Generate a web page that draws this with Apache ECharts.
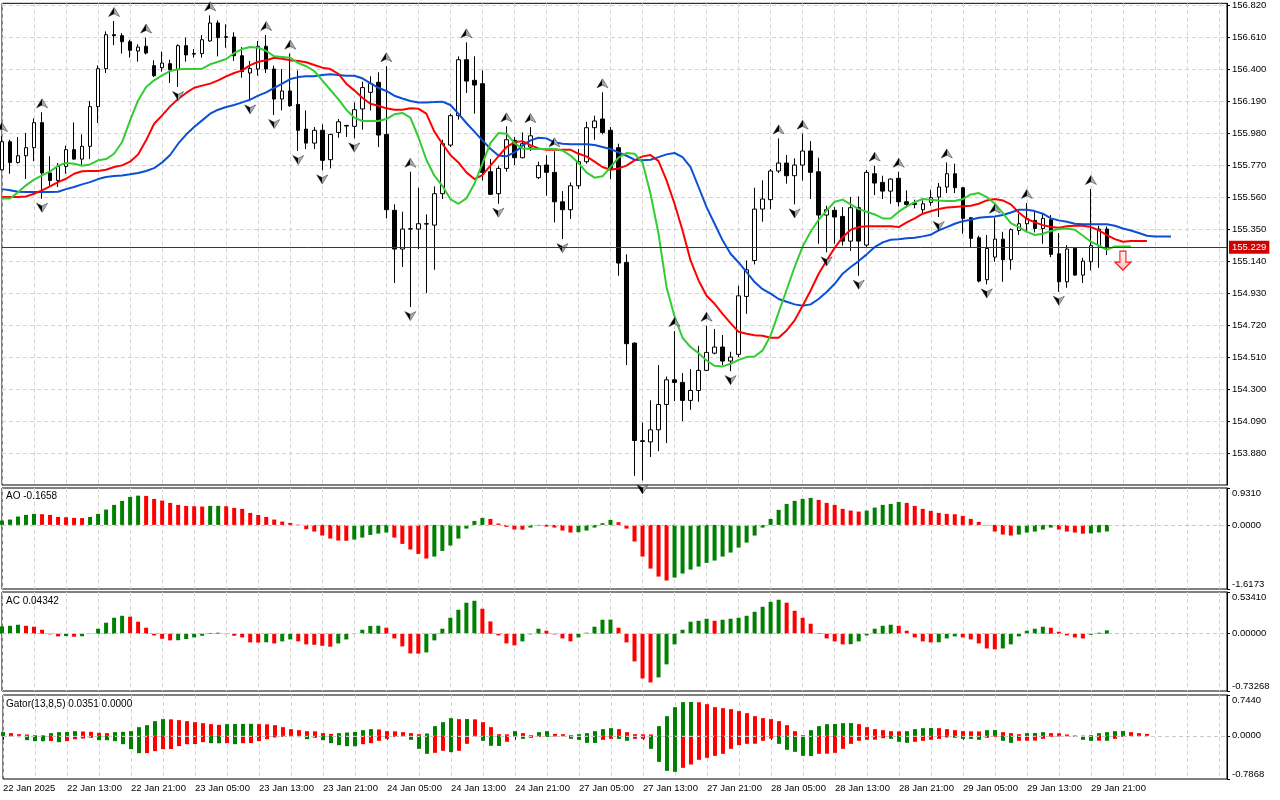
<!DOCTYPE html>
<html><head><meta charset="utf-8">
<script src="https://cdn.jsdelivr.net/npm/echarts@6/dist/echarts.min.js"></script>
<style>html,body{margin:0;padding:0;background:#fff}#c{width:1280px;height:800px}</style>
</head><body><div id="c"></div>
<script>
// ---------- time axis ----------
const timeLabels = ['22 Jan 2025','22 Jan 13:00','22 Jan 21:00','23 Jan 05:00','23 Jan 13:00','23 Jan 21:00','24 Jan 05:00','24 Jan 13:00','24 Jan 21:00','27 Jan 05:00','27 Jan 13:00','27 Jan 21:00','28 Jan 05:00','28 Jan 13:00','28 Jan 21:00','29 Jan 05:00','29 Jan 13:00','29 Jan 21:00'];
const LABEL_EVERY = 8;
const SLOTS = 154; // 139 hourly bars + empty chart shift on the right

// ---------- prices (USDJPY H1) ----------
const open = [155.739,155.923,155.787,155.831,155.884,156.048,155.718,155.669,155.761,155.871,155.809,155.893,156.153,156.402,156.625,156.619,156.579,156.518,156.549,156.422,156.409,156.435,156.396,156.553,
156.501,156.501,156.584,156.702,156.612,156.610,156.487,156.374,156.400,156.549,156.400,156.203,156.256,156.168,156.006,155.914,155.998,155.805,155.984,156.030,156.024,156.138,156.247,
156.313,155.971,155.473,155.219,155.350,155.350,155.385,155.376,155.582,155.901,156.094,156.461,156.326,156.304,155.726,155.582,155.748,155.932,155.818,155.888,155.687,155.770,155.722,
155.529,155.477,155.634,155.792,156.015,156.072,155.998,155.884,155.131,154.602,153.961,153.954,154.033,154.199,154.361,154.344,154.226,154.291,154.423,154.536,154.576,154.484,154.528,154.908,
155.144,155.481,155.543,155.731,155.783,155.700,155.770,155.862,155.726,155.442,155.473,155.433,155.271,155.490,155.245,155.713,155.656,155.599,155.683,155.529,155.519,155.477,155.525,
155.560,155.626,155.713,155.621,155.424,155.293,155.018,155.166,155.284,155.149,155.341,155.385,155.407,155.354,155.411,155.188,155.004,155.223,155.048,155.136,155.241,155.350];
const high = [155.960,155.936,155.954,155.980,156.076,156.116,155.827,155.783,155.897,156.050,155.971,156.190,156.424,156.647,156.715,156.636,156.592,156.562,156.606,156.457,156.514,156.461,156.562,156.606,
156.531,156.623,156.752,156.719,156.693,156.641,156.544,156.453,156.584,156.623,156.422,156.400,156.501,156.391,156.129,156.019,156.037,155.976,156.072,156.033,156.181,156.317,156.352,
156.378,156.418,155.512,155.464,155.726,155.621,155.446,155.630,155.936,156.107,156.483,156.575,156.483,156.391,155.809,155.766,156.024,155.954,155.984,156.019,155.792,155.835,155.860,
155.599,155.656,155.875,156.054,156.094,156.247,156.019,155.910,155.184,154.606,154.081,154.226,154.458,154.383,154.681,154.405,154.431,154.584,154.716,154.694,154.655,154.545,154.978,155.144,
155.621,155.669,155.744,155.945,155.836,155.814,155.976,155.927,155.818,155.503,155.494,155.494,155.560,155.564,155.739,155.766,155.700,155.683,155.726,155.604,155.543,155.538,155.608,
155.652,155.787,155.779,155.626,155.429,155.306,155.311,155.424,155.332,155.354,155.451,155.521,155.464,155.451,155.442,155.324,155.245,155.228,155.162,155.613,155.372,155.367];
const low = [155.735,155.713,155.779,155.678,155.796,155.549,155.634,155.626,155.713,155.805,155.770,155.809,156.046,156.374,156.557,156.501,156.474,156.448,156.496,156.347,156.383,156.308,156.282,156.448,
156.474,156.474,156.579,156.483,156.540,156.453,156.343,156.194,156.356,156.374,156.098,156.129,156.151,155.862,155.875,155.875,155.735,155.748,155.949,155.954,155.945,156.002,156.129,
155.888,155.420,154.996,155.101,154.838,155.219,154.930,155.083,155.547,155.888,156.068,156.243,156.107,155.669,155.573,155.516,155.726,155.770,155.814,155.862,155.678,155.569,155.394,
155.284,155.416,155.613,155.779,155.936,155.971,155.678,155.044,154.458,153.731,153.701,153.854,153.893,153.946,154.221,154.090,154.164,154.217,154.418,154.528,154.458,154.418,154.510,154.794,
155.118,155.398,155.481,155.718,155.648,155.512,155.669,155.547,155.254,155.197,155.254,155.241,155.206,155.044,155.228,155.573,155.547,155.516,155.499,155.490,155.486,155.446,155.503,
155.429,155.586,155.586,155.319,155.228,155.000,154.987,155.136,155.004,155.083,155.311,155.332,155.328,155.254,155.166,154.939,154.965,155.044,154.996,155.079,155.096,155.179];
const close = [155.923,155.787,155.831,155.884,156.048,155.718,155.669,155.761,155.871,155.809,155.893,156.153,156.402,156.625,156.619,156.579,156.523,156.544,156.505,156.356,156.439,156.396,156.553,156.492,
156.498,156.592,156.702,156.606,156.608,156.487,156.383,156.404,156.549,156.400,156.203,156.256,156.159,155.998,155.914,155.998,155.801,155.971,156.054,156.026,156.133,156.278,156.304,
155.967,155.477,155.219,155.350,155.352,155.385,155.383,155.582,155.910,156.094,156.461,156.321,156.295,155.722,155.578,155.748,155.936,155.818,155.910,155.962,155.766,155.722,155.529,
155.477,155.634,155.792,156.015,156.059,155.984,155.748,155.127,154.598,153.963,153.957,154.033,154.199,154.361,154.344,154.226,154.291,154.423,154.541,154.576,154.484,154.510,154.912,155.083,
155.481,155.547,155.731,155.783,155.700,155.770,155.862,155.722,155.442,155.477,155.429,155.271,155.490,155.271,155.722,155.652,155.599,155.678,155.529,155.512,155.512,155.516,155.556,
155.626,155.713,155.621,155.420,155.289,155.009,155.223,155.284,155.149,155.346,155.385,155.420,155.354,155.420,155.184,155.004,155.219,155.048,155.140,155.241,155.350,155.229];
const lastPrice = 155.229;
const priceTicks = [153.880,154.090,154.300,154.510,154.720,154.930,155.140,155.350,155.560,155.770,155.980,156.190,156.400,156.610,156.820];

// ---------- Alligator (jaw shifted 8, teeth 5, lips 3) ----------
const jaw = [155.612,155.604,155.595,155.593,155.593,155.593,155.593,155.595,155.612,155.626,155.643,155.658,155.678,155.691,155.698,155.702,155.709,155.718,155.731,155.750,155.787,155.836,155.910,155.970,
156.019,156.063,156.107,156.133,156.151,156.164,156.181,156.199,156.225,156.247,156.277,156.304,156.334,156.347,156.352,156.352,156.361,156.365,156.361,156.356,156.356,156.339,156.308,
156.277,156.256,156.225,156.207,156.190,156.181,156.181,156.183,156.186,156.164,156.107,156.046,155.989,155.932,155.877,155.833,155.827,155.853,155.897,155.932,155.949,155.945,155.919,
155.910,155.906,155.906,155.906,155.901,155.888,155.875,155.853,155.831,155.805,155.801,155.805,155.822,155.840,155.849,155.822,155.757,155.626,155.494,155.385,155.276,155.188,155.131,155.068,
155.002,154.956,154.926,154.891,154.873,154.856,154.847,154.856,154.891,154.937,154.991,155.057,155.101,155.140,155.184,155.232,155.263,155.280,155.284,155.289,155.293,155.302,155.313,
155.341,155.363,155.385,155.402,155.411,155.424,155.429,155.433,155.442,155.459,155.477,155.477,155.468,155.451,155.420,155.407,155.398,155.385,155.381,155.381,155.381,155.381,155.372,155.354,155.341,155.324,155.306,155.302,155.302,155.302];
const teeth = [155.560,155.560,155.560,155.564,155.582,155.604,155.630,155.658,155.680,155.713,155.729,155.731,155.731,155.739,155.757,155.768,155.792,155.840,155.932,156.041,156.096,156.155,156.203,156.243,
156.277,156.291,156.304,156.326,156.352,156.374,156.391,156.426,156.448,156.457,156.474,156.468,156.457,156.453,156.444,156.426,156.409,156.400,156.369,156.304,156.260,156.212,156.172,
156.159,156.142,156.133,156.133,156.142,156.140,156.107,155.989,155.910,155.836,155.787,155.722,155.678,155.704,155.766,155.827,155.888,155.919,155.927,155.901,155.879,155.871,155.871,
155.871,155.871,155.844,155.827,155.792,155.757,155.739,155.748,155.766,155.801,155.827,155.836,155.796,155.669,155.516,155.341,155.144,155.013,154.912,154.860,154.794,154.733,154.676,154.663,
154.654,154.650,154.637,154.637,154.685,154.751,154.847,154.947,155.057,155.144,155.227,155.297,155.346,155.363,155.368,155.368,155.368,155.368,155.363,155.394,155.420,155.451,155.467,
155.482,155.491,155.495,155.499,155.503,155.516,155.538,155.547,155.538,155.512,155.459,155.416,155.394,155.376,155.363,155.359,155.368,155.372,155.372,155.363,155.341,155.311,155.284,155.267,155.271,155.271,155.271];
const lips = [155.551,155.551,155.591,155.637,155.674,155.702,155.728,155.766,155.783,155.779,155.766,155.774,155.801,155.809,155.844,155.921,156.063,156.194,156.282,156.326,156.358,156.387,156.398,156.400,
156.400,156.402,156.431,156.448,156.466,156.505,156.531,156.544,156.540,156.518,156.483,156.479,156.474,156.439,156.418,156.387,156.326,156.264,156.203,156.133,156.081,156.059,156.059,
156.059,156.072,156.103,156.112,156.081,155.954,155.805,155.700,155.634,155.547,155.516,155.551,155.647,155.779,155.914,155.980,155.976,155.914,155.879,155.875,155.875,155.875,155.875,
155.866,155.832,155.783,155.722,155.687,155.696,155.757,155.818,155.849,155.844,155.787,155.582,155.319,154.969,154.777,154.637,154.576,154.536,154.488,154.453,154.449,154.466,154.492,154.510,
154.514,154.554,154.652,154.803,154.952,155.101,155.236,155.332,155.411,155.473,155.529,155.543,155.512,155.481,155.464,155.446,155.420,155.420,155.464,155.499,155.527,155.547,155.543,
155.538,155.534,155.534,155.547,155.577,155.586,155.560,155.516,155.455,155.389,155.363,155.332,155.311,155.319,155.337,155.350,155.354,155.346,155.306,155.267,155.241,155.214,155.236,155.236,155.236];

// ---------- Fractals and signal ----------
const fractalUp = [0,5,14,18,26,33,36,48,51,58,63,66,69,75,84,88,97,100,109,112,118,124,128,136];
const fractalDown = [5,22,31,34,37,40,44,51,62,70,80,91,99,103,107,117,123,132];
const sellSignal = [[140, 155.143]];

// ---------- AO ----------
const ao = [0.109,0.135,0.210,0.252,0.278,0.269,0.252,0.202,0.193,0.177,0.172,0.202,0.278,0.387,0.505,0.606,0.706,0.738,0.731,0.656,0.614,0.555,0.505,0.479,
0.471,0.463,0.479,0.481,0.471,0.429,0.404,0.303,0.252,0.202,0.135,0.084,0.050,0.008,-0.109,-0.168,-0.269,-0.345,-0.395,-0.400,-0.370,-0.320,-0.252,
-0.219,-0.193,-0.320,-0.479,-0.622,-0.732,-0.849,-0.799,-0.656,-0.521,-0.345,-0.093,0.101,0.177,0.151,0.034,-0.050,-0.118,-0.120,-0.067,-0.017,-0.042,-0.067,
-0.143,-0.193,-0.185,-0.143,-0.067,0.042,0.126,0.067,-0.093,-0.420,-0.799,-1.102,-1.304,-1.404,-1.329,-1.228,-1.127,-1.051,-0.959,-0.900,-0.799,-0.698,-0.572,-0.446,
-0.269,-0.067,0.151,0.379,0.530,0.606,0.656,0.681,0.631,0.555,0.505,0.404,0.362,0.336,0.362,0.437,0.505,0.530,0.580,0.555,0.479,0.404,0.353,
0.303,0.278,0.269,0.227,0.151,0.076,-0.010,-0.168,-0.244,-0.269,-0.244,-0.193,-0.168,-0.118,-0.067,-0.118,-0.168,-0.193,-0.222,-0.215,-0.190,-0.1658];
const aoColors = 'ggggg rrrrrr ggggggg rrrrrrrr gg rrrrrrrrrrrrrrrr ggggg rrrrr ggggggg rrrrr gg rrrr ggggg rrrrrrr gggggggggggggggggg rrrrrr ggggg rrrrrrrrrrrrrr ggggg rrrr ggg';
const aoTicks = [-1.6173, 0, 0.9310];

// ---------- AC ----------
const ac = [0.094,0.102,0.115,0.102,0.090,0.051,-0.008,-0.034,-0.030,-0.038,-0.032,-0.004,0.064,0.141,0.205,0.230,0.218,0.154,0.077,-0.021,-0.064,-0.085,-0.083,-0.068,
-0.047,-0.026,0.009,0.013,-0.004,-0.026,-0.047,-0.111,-0.113,-0.109,-0.124,-0.098,-0.073,-0.098,-0.136,-0.141,-0.154,-0.166,-0.124,-0.073,-0.004,0.051,0.100,
0.103,0.077,-0.060,-0.162,-0.252,-0.255,-0.239,-0.085,0.064,0.205,0.307,0.397,0.422,0.320,0.158,-0.021,-0.124,-0.149,-0.098,-0.008,0.064,0.038,-0.008,
-0.060,-0.098,-0.047,0.013,0.090,0.179,0.181,0.077,-0.111,-0.354,-0.572,-0.623,-0.559,-0.392,-0.136,0.051,0.154,0.166,0.192,0.166,0.179,0.192,0.205,0.230,
0.281,0.345,0.409,0.435,0.397,0.294,0.205,0.128,0.009,-0.060,-0.098,-0.136,-0.134,-0.098,-0.021,0.064,0.102,0.115,0.102,0.038,-0.047,-0.098,-0.111,
-0.109,-0.060,-0.034,-0.047,-0.073,-0.124,-0.188,-0.200,-0.188,-0.136,-0.034,0.038,0.064,0.090,0.077,0.026,-0.021,-0.047,-0.060,-0.013,0.013,0.04342];
const acColors = 'ggg rrrrr g r gggggg rrrrrr gggggg rrrrr g r gg rrrrr gggggg rrrrr ggggggg rrrrr ggg rrrr ggggg rrrrr ggggggg r gggggggg rrrrrrrr gggggg rrrrr ggg rrrrr gggggg rrrrr ggg';
const acTicks = [-0.73268, 0, 0.53410];

// ---------- Gator ----------
const gatorUp = [0.067,0.049,0.030,0.024,0.012,0.010,0.049,0.067,0.069,0.085,0.079,0.073,0.055,0.049,0.067,0.073,0.085,0.158,0.194,0.267,0.304,0.300,0.286,0.267,
0.249,0.231,0.213,0.200,0.213,0.215,0.217,0.219,0.213,0.210,0.194,0.158,0.122,0.103,0.085,0.082,0.049,0.036,0.049,0.060,0.070,0.103,0.122,
0.115,0.085,0.082,0.067,0.049,0.030,0.043,0.176,0.249,0.322,0.304,0.306,0.300,0.249,0.158,0.030,0.028,0.085,0.049,0.012,0.067,0.085,0.036,
0.030,0.012,0.030,0.049,0.085,0.122,0.140,0.122,0.067,0.030,0.028,0.025,0.176,0.358,0.522,0.614,0.616,0.612,0.577,0.522,0.504,0.486,0.450,0.413,
0.358,0.322,0.304,0.267,0.194,0.085,0.012,0.103,0.176,0.213,0.215,0.231,0.233,0.213,0.158,0.122,0.103,0.085,0.082,0.085,0.122,0.140,0.142,
0.140,0.122,0.103,0.085,0.082,0.080,0.103,0.105,0.067,0.049,0.030,0.049,0.051,0.067,0.049,0.047,0.024,0.006,0.004,0.012,0.049,0.067,0.085,0.087,0.067,0.049,0.0351];
const gatorUpColors = 'g rrrrr gggg rrrr ggggggg rrrrrrr gggg rrrrrrrrrr ggggg rrrrrr gggg r g rrrrr g rr gg rrr ggggg rrrrr ggggg rrrrrrrrrrrrrr gggggg rrrrrr gggg rrrrrr gg rrr ggg rrrrr ggggg rrr';
const gatorDown = [-0.006,-0.012,-0.024,-0.079,-0.097,-0.099,-0.095,-0.115,-0.097,-0.061,-0.049,-0.036,-0.079,-0.080,-0.097,-0.152,-0.243,-0.316,-0.314,-0.279,-0.243,-0.240,-0.188,-0.152,
-0.150,-0.115,-0.134,-0.136,-0.134,-0.152,-0.134,-0.132,-0.097,-0.061,-0.030,-0.018,-0.012,-0.024,-0.061,-0.036,-0.079,-0.134,-0.170,-0.188,-0.190,-0.152,-0.134,
-0.091,-0.055,-0.018,-0.012,-0.073,-0.237,-0.328,-0.310,-0.273,-0.298,-0.273,-0.146,-0.012,-0.091,-0.182,-0.184,-0.109,-0.012,-0.055,-0.036,-0.018,-0.020,-0.012,
-0.010,-0.055,-0.073,-0.128,-0.130,-0.073,-0.055,-0.057,-0.091,-0.055,-0.053,-0.237,-0.474,-0.638,-0.656,-0.583,-0.522,-0.437,-0.401,-0.365,-0.328,-0.237,-0.170,-0.146,
-0.144,-0.091,-0.049,-0.146,-0.255,-0.292,-0.365,-0.367,-0.328,-0.326,-0.310,-0.237,-0.146,-0.091,-0.073,-0.071,-0.043,-0.055,-0.109,-0.128,-0.109,-0.091,-0.073,
-0.055,-0.030,-0.036,-0.055,-0.057,-0.073,-0.036,-0.018,-0.091,-0.128,-0.091,-0.089,-0.087,-0.055,-0.018,-0.012,-0.010,-0.018,-0.073,-0.091,-0.089,-0.091,-0.055,-0.018,-0.006];
const gatorDownColors = 'gggggg r g rrrr gggggg rrrrrrrr gg r g rrrrrrr gg r ggggg rrrrrr ggg rr g rrr ggg rr g rr g rr gggg rr gg rr gggg rrrrrrrrrrrr ggggg rrrrrrrrr ggg rrrrr gggg rr gg rrrrrrr ggg r g rrr';
const gatorTicks = [-0.7868, 0, 0.7440];

// ---------- build ----------
const GREEN = '#008000', RED = '#ff0000';
const FONT = '"Liberation Sans", Arial, sans-serif';
const FS = 9.5;
const cats = Array.from({length: SLOTS}, (_, i) => String(i));
const isLabelIdx = i => i % LABEL_EVERY === 0 && i / LABEL_EVERY < timeLabels.length;
const colorsOf = s => s.replace(/ /g, '').split('').map(c => c === 'g' ? GREEN : RED);
const coloured = (vals, cs) => { const c = colorsOf(cs); return vals.map((v, i) => ({value: v, itemStyle: {color: c[i] || GREEN}})); };

const gridBase = {left: 2, right: 53, show: true, borderColor: '#000', borderWidth: 1, backgroundColor: '#fff'};
const grids = [
  Object.assign({}, gridBase, {top: 3, height: 482}),
  Object.assign({}, gridBase, {top: 488, height: 101}),
  Object.assign({}, gridBase, {top: 592, height: 99}),
  Object.assign({}, gridBase, {top: 695, height: 84})
];
const dash = {color: '#d4d4d4', type: [4, 3], width: 1};
const xAxes = grids.map((g, k) => ({
  type: 'category', gridIndex: k, data: cats, boundaryGap: false,
  axisLine: {show: false},
  axisTick: {show: k === 3, interval: i => isLabelIdx(i), length: 4, inside: false, lineStyle: {color: '#000'}},
  axisLabel: {show: k === 3, interval: i => isLabelIdx(i), formatter: (v, i) => isLabelIdx(i) ? timeLabels[i / LABEL_EVERY] : '',
    align: 'left', margin: 4, fontSize: FS, color: '#000', fontFamily: FONT},
  splitLine: {show: true, interval: i => i % 4 === 0, lineStyle: dash}
}));
const indY = (k, ticks, dec) => ({
  type: 'value', gridIndex: k, position: 'right', min: ticks[0], max: ticks[2],
  axisLine: {show: true, lineStyle: {color: '#000'}},
  axisTick: {show: true, length: 3, customValues: ticks, lineStyle: {color: '#000'}},
  axisLabel: {customValues: ticks, formatter: v => v.toFixed(dec), margin: 5, fontSize: FS, color: '#000', fontFamily: FONT,
    verticalAlignMinLabel: 'bottom', verticalAlignMaxLabel: 'top'},
  splitLine: {show: false}
});
const yAxes = [
  {type: 'value', gridIndex: 0, position: 'right', min: 153.671, max: 156.831,
   axisLine: {show: true, lineStyle: {color: '#000'}},
   axisTick: {show: true, length: 3, customValues: priceTicks, lineStyle: {color: '#000'}},
   axisLabel: {customValues: priceTicks, formatter: v => v.toFixed(3), margin: 5, fontSize: FS, color: '#000', fontFamily: FONT},
   splitLine: {show: true, lineStyle: dash}},
  indY(1, aoTicks, 4), indY(2, acTicks, 5), indY(3, gatorTicks, 4)
];
const zeroLine = {silent: true, symbol: 'none', label: {show: false}, lineStyle: {color: '#c8c8c8', type: [4, 3], width: 1}, data: [{yAxis: 0}]};
const fractalFill = new echarts.graphic.LinearGradient(0, 0, 1, 0, [
  {offset: 0, color: '#000'}, {offset: 0.5, color: '#000'}, {offset: 0.5, color: '#8e9cab'}, {offset: 1, color: '#d0d8e0'}]);
const titleStyle = {fontSize: 10, fontWeight: 'normal', color: '#000', fontFamily: FONT};

const option = {
  animation: false,
  backgroundColor: '#fff',
  textStyle: {fontFamily: FONT},
  title: [
    {text: 'AO -0.1658', left: 6, top: 491, padding: 0, textStyle: titleStyle},
    {text: 'AC 0.04342', left: 6, top: 596, padding: 0, textStyle: titleStyle},
    {text: 'Gator(13,8,5) 0.0351 0.0000', left: 6, top: 699, padding: 0, textStyle: titleStyle}
  ],
  grid: grids, xAxis: xAxes, yAxis: yAxes,
  series: [
    {type: 'candlestick', xAxisIndex: 0, yAxisIndex: 0, z: 2, barWidth: 4,
     data: open.map((o, i) => [o, close[i], low[i], high[i]]),
     itemStyle: {color: '#fff', color0: '#000', borderColor: '#000', borderColor0: '#000', borderColorDoji: '#000', borderWidth: 1},
     markLine: {silent: true, symbol: 'none', data: [{yAxis: lastPrice}],
       lineStyle: {color: '#c00000', width: 1, type: 'solid'},
       label: {show: true, position: 'end', formatter: lastPrice.toFixed(3), color: '#fff', backgroundColor: '#d00000',
         padding: [2, 3, 1, 3], fontSize: FS, fontFamily: FONT, distance: 2}}},
    {type: 'line', name: 'Jaw', xAxisIndex: 0, yAxisIndex: 0, z: 3, data: jaw, showSymbol: false, symbol: 'none',
     lineStyle: {color: '#0a4fd6', width: 2}},
    {type: 'line', name: 'Teeth', xAxisIndex: 0, yAxisIndex: 0, z: 3, data: teeth, showSymbol: false, symbol: 'none',
     lineStyle: {color: '#ff0000', width: 2}},
    {type: 'line', name: 'Lips', xAxisIndex: 0, yAxisIndex: 0, z: 3, data: lips, showSymbol: false, symbol: 'none',
     lineStyle: {color: '#32cd32', width: 2}},
    {type: 'scatter', xAxisIndex: 0, yAxisIndex: 0, z: 4, data: fractalUp.map(i => [i, high[i]]),
     symbol: 'path://M6,0 L12,10 L6,7 L0,10 Z', symbolSize: [11, 9], symbolOffset: [0, -9],
     itemStyle: {color: fractalFill, borderColor: '#222', borderWidth: 0.5, opacity: 1}},
    {type: 'scatter', xAxisIndex: 0, yAxisIndex: 0, z: 4, data: fractalDown.map(i => [i, low[i]]),
     symbol: 'path://M0,0 L6,3 L12,0 L6,10 Z', symbolSize: [11, 9], symbolOffset: [0, 9],
     itemStyle: {color: fractalFill, borderColor: '#222', borderWidth: 0.5, opacity: 1}},
    {type: 'scatter', xAxisIndex: 0, yAxisIndex: 0, z: 5, data: sellSignal,
     symbol: 'path://M5,0 L11,0 L11,11 L16,11 L8,19 L0,11 L5,11 Z', symbolSize: [16, 19],
     itemStyle: {color: new echarts.graphic.LinearGradient(0, 0, 0, 1, [{offset: 0, color: '#ffffff'}, {offset: 1, color: '#ffb8b8'}]),
       borderColor: '#ff1a1a', borderWidth: 1.2, opacity: 1}},
    {type: 'bar', xAxisIndex: 1, yAxisIndex: 1, barWidth: 4, data: coloured(ao, aoColors), markLine: zeroLine},
    {type: 'bar', xAxisIndex: 2, yAxisIndex: 2, barWidth: 4, data: coloured(ac, acColors), markLine: zeroLine},
    {type: 'bar', xAxisIndex: 3, yAxisIndex: 3, barWidth: 4, barGap: '-100%', data: coloured(gatorUp, gatorUpColors), markLine: zeroLine},
    {type: 'bar', xAxisIndex: 3, yAxisIndex: 3, barWidth: 4, barGap: '-100%', data: coloured(gatorDown, gatorDownColors)}
  ]
};
const chart = echarts.init(document.getElementById('c'), null, {renderer: 'canvas'});
chart.setOption(option);
</script>
</body></html>
